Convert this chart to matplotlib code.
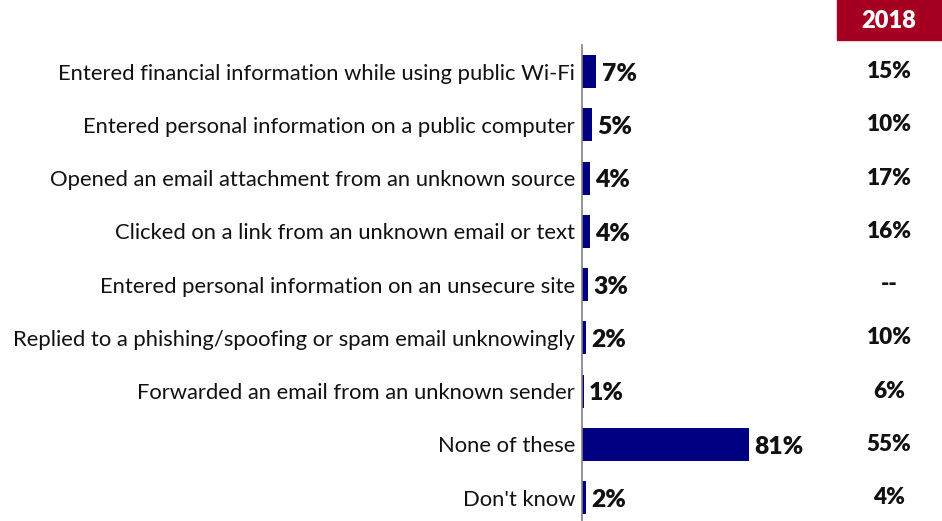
import matplotlib
matplotlib.use("Agg")
import matplotlib.pyplot as plt
from matplotlib.patches import Rectangle

plt.rcParams['font.family'] = ['Lato', 'DejaVu Sans']

# survey items, current share and the 2018 figure
items = [
    "Entered financial information while using public Wi-Fi",
    "Entered personal information on a public computer",
    "Opened an email attachment from an unknown source",
    "Clicked on a link from an unknown email or text",
    "Entered personal information on an unsecure site",
    "Replied to a phishing/spoofing or spam email unknowingly",
    "Forwarded an email from an unknown sender",
    "None of these",
    "Don't know",
]
values = [7, 5, 4, 4, 3, 2, 1, 81, 2]
values_2018 = ["15%", "10%", "17%", "16%", "--", "10%", "6%", "55%", "4%"]

W, H = 942, 521
fig = plt.figure(figsize=(W / 100, H / 100), dpi=100)

row_px = 53.25
ax_left, ax_top = 582, 45
x_scale = 2.06  # px per percent
ax_w = 100 * x_scale
ax_h = H - ax_top
ax = fig.add_axes([ax_left / W, 0, ax_w / W, ax_h / H])

navy = "#000080"
ypos = list(range(len(items)))
ax.barh(ypos, values, height=0.62, color=navy, zorder=2)
ax.set_xlim(0, 100)
ax.set_ylim(-0.5 + ax_h / row_px, -0.5)

for s in ["top", "right", "bottom"]:
    ax.spines[s].set_visible(False)
ax.spines["left"].set_color("#808080")
ax.spines["left"].set_linewidth(1.2)
ax.set_xticks([])
ax.set_yticks(ypos)
ax.set_yticklabels(items, fontsize=15.8, color="#111111")
ax.tick_params(axis="y", length=0, pad=5)

for y, v in zip(ypos, values):
    ax.text(v + 2.5, y + 0.04, f"{v}%", va="center", ha="left",
            fontsize=17.7, fontweight="heavy", color="#111111")

# 2018 comparison column
col_x = (889 - ax_left) / x_scale
for y, t in zip(ypos, values_2018):
    ax.text(col_x, y, t, va="center", ha="center", fontsize=16.2,
            fontweight="heavy", color="#111111", clip_on=False)

fig.patches.append(Rectangle((837 / W, 1 - 40 / H), (W - 837) / W, 40 / H,
                             transform=fig.transFigure, color="#A50021"))
fig.text(889 / W, 1 - 21 / H, "2018", ha="center", va="center",
         fontsize=17, fontweight="heavy", color="white")

fig.savefig("out.png", dpi=100)
